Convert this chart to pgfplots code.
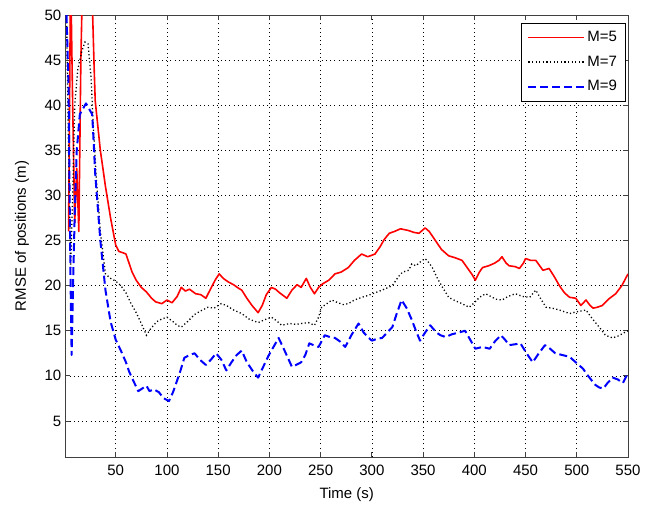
\documentclass[border=0pt]{standalone}
\usepackage{pgfplots}
\pgfplotsset{compat=1.18}
\usepackage{fontspec}
\setmainfont{Liberation Sans}
\definecolor{axgray}{RGB}{64,64,64}
\tikzset{
  sM5/.style={red, line width=1.6bp, line join=round},
  sM7/.style={black, line width=1.3bp, dash pattern=on 1.2bp off 2.4bp},
  sM9/.style={blue, line width=2bp, dash pattern=on 8bp off 4bp, line join=round},
}
\begin{document}
\fontsize{15bp}{18bp}\selectfont
\begin{tikzpicture}
\useasboundingbox (-65.5bp,-49bp) rectangle (592.5bp,457bp);
\begin{axis}[
  scale only axis,
  width=562.5bp, height=442bp,
  at={(0,0)}, anchor=south west,
  xmin=1, xmax=550, ymin=1, ymax=50,
  xtick={50,100,...,550},
  ytick={5,10,...,50},
  grid=major,
  major grid style={black, line width=0.6bp, dash pattern=on 1bp off 3.2bp},
  tick align=inside,
  major tick length=5bp,
  tick style={axgray, line width=0.8bp},
  axis line style={axgray, line width=0.9bp},
  /pgf/number format/assume math mode=true,
  ticklabel style={inner sep=0pt},
  xticklabel style={anchor=north, yshift=-8bp},
  yticklabel style={anchor=east, xshift=-4bp},
  xlabel={Time (s)},
  ylabel={RMSE of positions (m)},
  xlabel style={at={(axis description cs:0.5,-0.086)}, anchor=center},
  ylabel style={at={(axis description cs:-0.0773,0.5)}, anchor=center, rotate=0},
  legend style={at={(rel axis cs:0.995,0.982)}, anchor=north east, draw=black, fill=white,
    row sep=8bp, inner xsep=6bp, inner ysep=6bp},
  legend cell align=left,
]
\addlegendimage{legend image code/.code={\draw[white, line width=0.01bp] (0bp,0bp) -- (0.01bp,0bp); \draw[sM5] (0bp,0bp) -- (56bp,0bp); \draw[sM5] (0bp,0bp) -- (56bp,0bp);}}
\addlegendentry{M=5}
\addlegendimage{legend image code/.code={\draw[sM7] (0bp,0bp) -- (56bp,0bp);}}
\addlegendentry{M=7}
\addlegendimage{legend image code/.code={\draw[sM9] (0bp,0bp) -- (56bp,0bp);}}
\addlegendentry{M=9}
\addplot[sM5, forget plot] coordinates {
(4,26)(6,55)(8,40)(10,27)(12,33)(14,26)(16,45)(18,56)(24,56)(27,52)(29,44)(30,40.5)(35,35)(40,31)(45,27.5)(50,24.5)(53,23.8)(58,23.6)(60,23.5)(63,22.5)(66,21.5)(70,20.6)(75,19.8)(80,19.3)(85,18.6)(89,18.2)(95,18)(100,18.4)(105,18.1)(110,18.8)(114,19.8)(118,19.4)(122,19.6)(128,19.1)(133,19.0)(138,18.6)(142,19.5)(147,20.6)(151,21.3)(155,20.8)(160,20.4)(165,20.1)(170,19.7)(173,19.5)(178,18.6)(183,17.8)(189,17.0)(193,17.8)(197,19.0)(202,19.8)(206,19.6)(210,19.2)(217,18.6)(222,19.5)(227,20.1)(231,19.8)(236,20.8)(240,19.8)(244,19.1)(248,19.8)(252,20.2)(258,20.6)(264,21.3)(270,21.5)(277,22.0)(283,22.8)(290,23.5)(296,23.2)(303,23.5)(308,24.3)(312,25.1)(317,25.8)(322,26)(328,26.3)(336,26.1)(341,25.9)(346,25.8)(352,26.4)(356,26)(362,25)(368,24)(375,23.3)(381,23.1)(388,22.8)(393,22)(398,21.2)(401,20.6)(405,21.5)(408,22)(414,22.2)(420,22.5)(424,22.8)(427,23.2)(431,22.5)(434,22.2)(440,22.1)(444,21.9)(448,22.5)(450,23)(455,22.8)(460,22.8)(467,21.7)(473,21.9)(478,21)(483,20)(488,19.2)(493,18.7)(499,18.6)(504,17.8)(509,18.4)(513,17.8)(516,17.5)(520,17.6)(525,17.8)(531,18.5)(538,19.1)(544,20.0)(550,21.3)
};
\addplot[sM7, forget plot] coordinates {
(2,50)(4,35)(6,22)(8,30)(10,40)(13,44)(17,46)(20,47)(23,46.8)(26,43)(28,38)(31,32)(35,26)(40,21.3)(45,20.8)(50,20.5)(55,20)(60,19.2)(65,18)(70,17)(75,15.8)(80,14.5)(84,15.2)(90,16)(95,16.3)(100,16.5)(106,16)(110,15.6)(114,15.4)(120,16)(127,16.8)(133,17.2)(140,17.6)(146,17.5)(153,18)(158,17.8)(165,17.3)(173,16.9)(180,16.3)(189,15.9)(195,16.2)(202,16.5)(207,16.1)(212,15.6)(220,15.8)(226,15.7)(231,15.8)(238,15.9)(244,15.6)(248,16.5)(251,17.6)(256,18)(261,18.4)(267,18.1)(272,17.9)(277,18)(283,18.4)(290,18.7)(296,18.9)(303,19.2)(310,19.5)(316,19.8)(320,20)(326,21)(330,21.5)(336,21.7)(339,22.4)(343,22.2)(348,22.7)(352,23)(356,22.5)(359,22)(364,20.8)(369,19.8)(375,18.7)(380,18.4)(388,18)(395,17.6)(400,18.1)(405,18.7)(411,19.1)(416,18.8)(421,18.5)(427,18.4)(433,18.8)(440,19.1)(447,18.8)(454,18.7)(460,19.5)(465,18.5)(470,17.6)(476,17.5)(483,17.3)(488,17.1)(493,16.9)(500,17.1)(505,17.2)(509,17.3)(514,16.5)(519,15.8)(524,15.1)(528,14.5)(535,14.2)(540,14.4)(545,14.7)(550,15)
};
\addplot[sM9, forget plot] coordinates {
(2,50)(4,42)(5,30)(6,20)(7,12.3)(8,18)(10,28)(12,35)(15,39)(21,40.2)(27,39)(28,37)(30,32.4)(35,25)(40,19.5)(45,16)(50,14)(55,12.8)(60,11.5)(63,10.5)(67,9.5)(72,8.3)(76,8.6)(80,8.9)(83,8.3)(87,8.5)(92,8.2)(97,7.5)(102,7.2)(106,8.2)(110,9.5)(113,10.5)(117,12)(122,12.3)(127,12.5)(132,11.8)(138,11.2)(143,11.8)(148,12.5)(153,11.8)(158,10.6)(163,11.5)(168,12.3)(173,12.8)(178,11.5)(184,10.5)(189,9.8)(194,11)(199,12.2)(204,13.2)(209,14.2)(214,13)(218,12)(222,11)(226,11.2)(231,11.5)(235,12.3)(239,13.6)(243,13.4)(248,13.2)(254,14.5)(259,14.3)(264,14.2)(269,13.8)(274,13.2)(280,14.5)(287,15.8)(292,14.8)(297,14.2)(300,13.9)(305,14.1)(310,14.2)(315,14.8)(320,15.4)(324,16.8)(329,18.4)(334,17.5)(339,16.2)(343,15.0)(347,13.9)(352,14.8)(357,15.6)(363,14.8)(367,14.5)(372,14.3)(378,14.6)(385,14.8)(391,15)(396,14)(401,13)(408,13.2)(415,13)(420,13.8)(426,14.5)(430,14)(434,13.4)(440,13.5)(445,13.6)(451,12.5)(457,11.5)(463,12.5)(469,13.4)(474,13)(479,12.5)(486,12.3)(493,12.1)(499,11.5)(506,10.8)(511,10)(518,9.0)(522,8.7)(526,8.6)(530,9.2)(535,9.8)(540,9.6)(545,9.2)(550,10.3)
};
\end{axis}
\end{tikzpicture}
\end{document}
